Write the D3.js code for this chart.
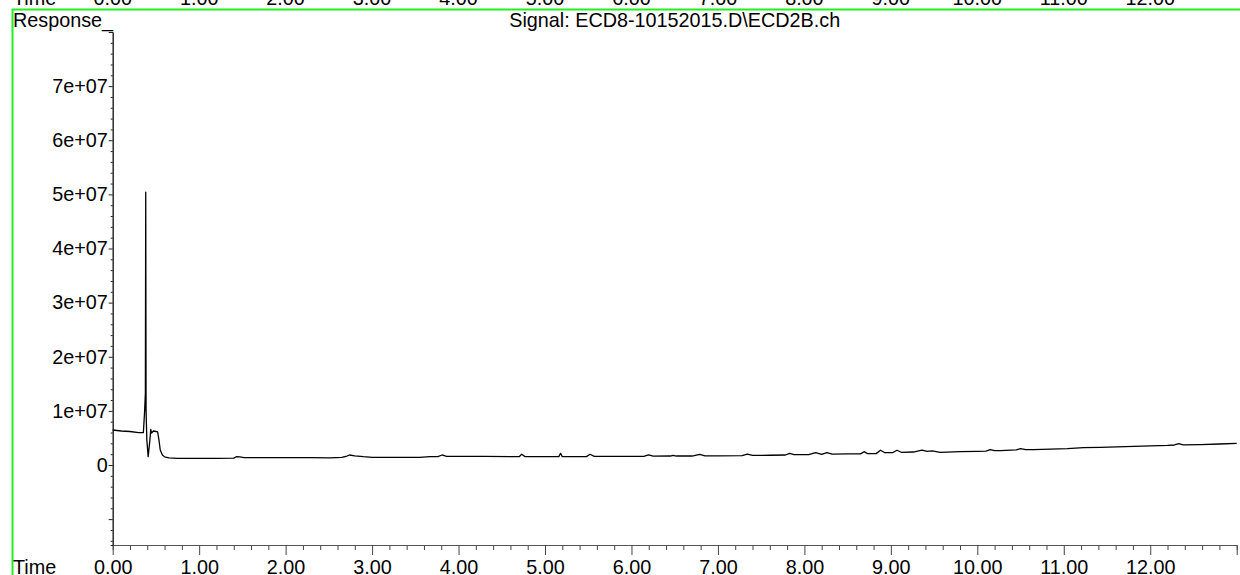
<!DOCTYPE html>
<html><head><meta charset="utf-8">
<script src="https://cdn.jsdelivr.net/npm/d3@7"></script>
<style>
html,body{margin:0;padding:0;background:#fff;overflow:hidden}
svg{display:block}
text{font-family:"Liberation Sans",Arial,sans-serif;fill:#000}
</style></head>
<body>
<script>
// ---- data ----
const time = [0.00,0.10,0.20,0.30,0.355,0.37,0.378,0.382,0.386,0.395,0.41,0.43,0.44,0.45,0.47,0.50,0.52,0.535,0.55,0.575,0.60,0.65,0.75,0.90,1.20,1.40,1.43,1.47,1.52,1.80,2.28,2.51,2.65,2.71,2.74,2.80,2.90,3.00,3.30,3.55,3.67,3.76,3.81,3.86,4.00,4.30,4.60,4.70,4.73,4.77,4.90,5.10,5.16,5.18,5.20,5.35,5.48,5.52,5.57,5.80,6.00,6.15,6.20,6.25,6.45,6.48,6.52,6.70,6.79,6.85,7.00,7.28,7.34,7.40,7.60,7.78,7.83,7.88,8.05,8.13,8.20,8.26,8.32,8.50,8.65,8.69,8.73,8.83,8.88,8.93,9.02,9.07,9.12,9.26,9.36,9.42,9.48,9.57,9.80,10.00,10.10,10.15,10.20,10.27,10.45,10.50,10.56,10.65,11.04,11.23,11.42,11.81,12.20,12.28,12.33,12.38,12.58,12.80,13.00];
const response = [6.47e6,6.28e6,6.19e6,6.0e6,6.0e6,1.02e7,1.33e7,5.04e7,1.0e7,4.6e6,1.53e6,4.6e6,6.56e6,5.9e6,6.28e6,6.19e6,6.1e6,4.6e6,2.77e6,1.85e6,1.5e6,1.33e6,1.24e6,1.24e6,1.24e6,1.26e6,1.53e6,1.5e6,1.38e6,1.36e6,1.38e6,1.3e6,1.4e6,1.66e6,1.85e6,1.7e6,1.53e6,1.42e6,1.42e6,1.42e6,1.53e6,1.55e6,1.85e6,1.6e6,1.6e6,1.58e6,1.55e6,1.53e6,1.98e6,1.55e6,1.53e6,1.53e6,1.55e6,2.16e6,1.55e6,1.53e6,1.55e6,1.98e6,1.6e6,1.6e6,1.6e6,1.62e6,1.85e6,1.65e6,1.66e6,1.78e6,1.66e6,1.66e6,1.98e6,1.7e6,1.7e6,1.75e6,2.03e6,1.79e6,1.8e6,1.85e6,2.16e6,1.9e6,1.92e6,2.3e6,1.95e6,2.3e6,2.0e6,2.05e6,2.05e6,2.46e6,2.1e6,2.1e6,2.72e6,2.27e6,2.27e6,2.72e6,2.35e6,2.4e6,2.77e6,2.5e6,2.6e6,2.35e6,2.46e6,2.53e6,2.55e6,2.83e6,2.64e6,2.64e6,2.8e6,3.01e6,2.85e6,2.83e6,3.01e6,3.2e6,3.26e6,3.45e6,3.63e6,3.7e6,3.94e6,3.72e6,3.76e6,3.88e6,4.0e6];
const xTickValues = [0,1,2,3,4,5,6,7,8,9,10,11,12,13];
const xTickLabels = ["0.00","1.00","2.00","3.00","4.00","5.00","6.00","7.00","8.00","9.00","10.00","11.00","12.00",""];
const yTickValues = [-1e7,0,1e7,2e7,3e7,4e7,5e7,6e7,7e7,8e7];
const yTickLabels = ["","0","1e+07","2e+07","3e+07","4e+07","5e+07","6e+07","7e+07",""];
const title = "Signal: ECD8-10152015.D\\ECD2B.ch";
const yTitle = "Response_";
const xTitle = "Time";

// ---- layout ----
const W = 1240, H = 575;
const fs = 19.8;
const svg = d3.select("body").append("svg").attr("width", W).attr("height", H);

const x = d3.scaleLinear().domain([0, 13]).range([112.7, 1236.7]);
const y = d3.scaleLinear().domain([-1.478e7, 8e7]).range([545, 32]);

// green frame
svg.append("line").attr("x1", 12).attr("x2", W).attr("y1", 9.5).attr("y2", 9.5)
  .attr("stroke", "#22ee22").attr("stroke-width", 2);
svg.append("line").attr("x1", 12.5).attr("x2", 12.5).attr("y1", 9).attr("y2", H)
  .attr("stroke", "#22ee22").attr("stroke-width", 2);

// cut-off axis labels from the previous panel at the top
svg.append("text").attr("x", 13).attr("y", 5).attr("font-size", fs).text(xTitle);
svg.append("g").selectAll("text").data(xTickValues).join("text")
  .attr("x", d => x(d)).attr("y", 5).attr("text-anchor", "middle").attr("font-size", fs)
  .text((d, i) => xTickLabels[i]);

// titles
svg.append("text").attr("x", 13).attr("y", 27).attr("font-size", fs).text(yTitle);
svg.append("text").attr("x", (x.range()[0] + x.range()[1]) / 2).attr("y", 27)
  .attr("text-anchor", "middle").attr("font-size", fs).text(title);
svg.append("text").attr("x", 13).attr("y", 574).attr("font-size", fs).text(xTitle);

// x axis
const xMinor = d3.range(0, 13.001, 0.2).filter(v => Math.abs(v - Math.round(v)) > 1e-6);
const gxMinor = svg.append("g").attr("transform", "translate(0,545)")
  .call(d3.axisBottom(x).tickValues(xMinor).tickSize(5).tickFormat(""));
const gx = svg.append("g").attr("transform", "translate(0,545)")
  .call(d3.axisBottom(x).tickValues(xTickValues).tickSize(10).tickSizeOuter(0)
    .tickFormat((d, i) => xTickLabels[i]));
gx.selectAll("text").attr("font-size", fs).attr("font-family", "Liberation Sans, Arial, sans-serif")
  .attr("y", 29).attr("dy", 0);
[gx, gxMinor].forEach(g => { g.selectAll("line").attr("stroke", "#444"); g.select(".domain").attr("stroke", "#555"); });

// y axis
const yMinor = d3.range(-1.4e7, 8.0001e7, 2e6).filter(v => Math.abs(v / 1e7 - Math.round(v / 1e7)) > 1e-6);
const gyMinor = svg.append("g").attr("transform", "translate(112.7,0)")
  .call(d3.axisLeft(y).tickValues(yMinor).tickSize(2).tickFormat(""));
const gy = svg.append("g").attr("transform", "translate(112.7,0)")
  .call(d3.axisLeft(y).tickValues(yTickValues).tickSize(4).tickSizeOuter(0)
    .tickFormat((d, i) => yTickLabels[i]));
gy.selectAll("text").attr("font-size", fs).attr("font-family", "Liberation Sans, Arial, sans-serif")
  .attr("x", -5);
[gy, gyMinor].forEach(g => { g.selectAll("line").attr("stroke", "#222"); g.select(".domain").attr("stroke", "#222"); });

// trace
const pts = time.map((t, i) => [t, response[i]]);
svg.append("path").datum(pts)
  .attr("fill", "none").attr("stroke", "#000").attr("stroke-width", 1.3)
  .attr("stroke-linejoin", "round")
  .attr("d", d3.line().x(d => x(d[0])).y(d => y(d[1])));
</script>
</body></html>
